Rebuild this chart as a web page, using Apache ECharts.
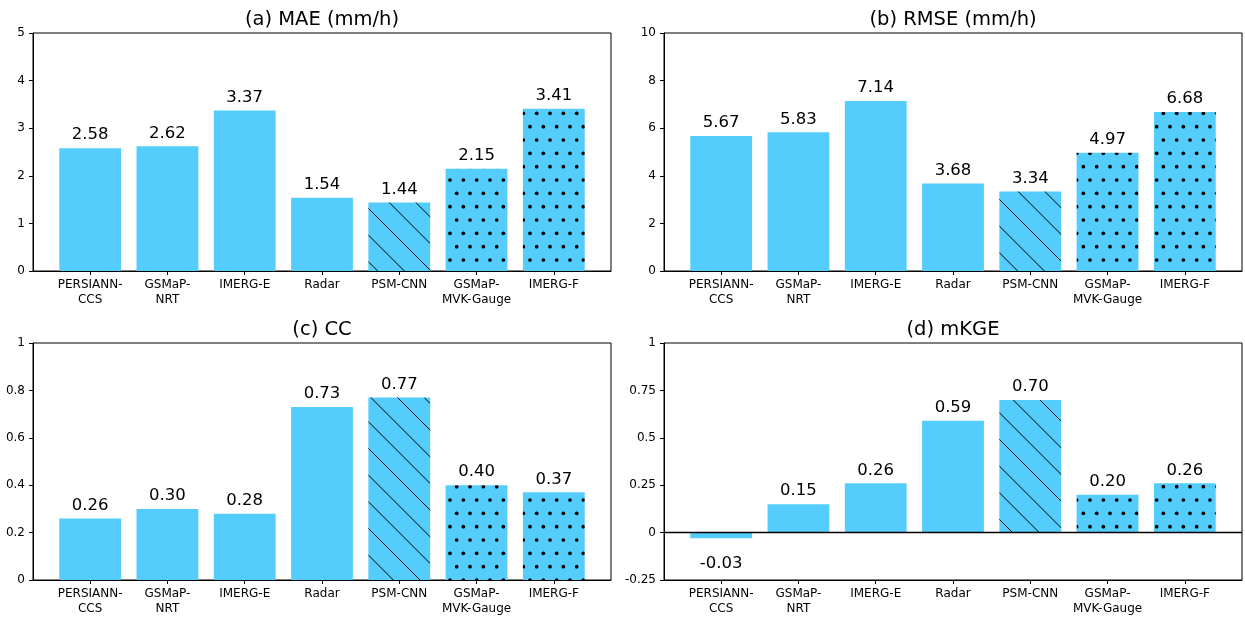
<!DOCTYPE html>
<html>
<head>
<meta charset="utf-8">
<script src="https://cdn.jsdelivr.net/npm/echarts@6/dist/echarts.min.js"></script>
<style>
  html, body { margin: 0; padding: 0; background: #fff; }
  #chart { width: 1245px; height: 617px; }
</style>
</head>
<body>
<div id="chart"></div>
<script>
// Products compared
const categories = ['PERSIANN-\nCCS', 'GSMaP-\nNRT', 'IMERG-E', 'Radar', 'PSM-CNN', 'GSMaP-\nMVK-Gauge', 'IMERG-F'];
// Fill style per product: plain, diagonal hatch, dotted
const fillKind = ['solid', 'solid', 'solid', 'solid', 'hatch', 'dots', 'dots'];

// Metric values per product
const maeValues  = [2.58, 2.62, 3.37, 1.54, 1.44, 2.15, 3.41];
const rmseValues = [5.67, 5.83, 7.14, 3.68, 3.34, 4.97, 6.68];
const ccValues   = [0.26, 0.30, 0.28, 0.73, 0.77, 0.40, 0.37];
const mkgeValues = [-0.03, 0.15, 0.26, 0.59, 0.70, 0.20, 0.26];

// Panel titles
const panelTitles = ['(a) MAE (mm/h)', '(b) RMSE (mm/h)', '(c) CC', '(d) mKGE'];

// Y axis ranges: [min, max, interval]
const maeAxis  = [0, 5, 1];
const rmseAxis = [0, 10, 2];
const ccAxis   = [0, 1, 0.2];
const mkgeAxis = [-0.25, 1, 0.25];

const BAR_COLOR = '#55CDFC';
const FONT = 'DejaVu Sans';
const X_MIN = -0.74, X_MAX = 6.74;

// Hatch patterns drawn on small tiles
function hatchTile() {
  const c = document.createElement('canvas');
  c.width = 80; c.height = 80;
  const g = c.getContext('2d');
  g.fillStyle = BAR_COLOR; g.fillRect(0, 0, 80, 80);
  g.strokeStyle = '#000'; g.lineWidth = 1;
  for (let k = -4; k <= 4; k++) {
    const off = k * 80 / 3;
    g.beginPath();
    g.moveTo(-10, -10 + off);
    g.lineTo(90, 90 + off);
    g.stroke();
  }
  return c;
}
function dotTile() {
  const c = document.createElement('canvas');
  c.width = 40; c.height = 80;
  const g = c.getContext('2d');
  g.fillStyle = BAR_COLOR; g.fillRect(0, 0, 40, 80);
  g.fillStyle = '#000';
  const step = 40 / 3;
  for (let r = 0; r < 6; r++) {
    const y = 6.667 + r * step;
    const x0 = (r % 2 === 0) ? 3.333 : 10;
    for (let k = 0; k < 3; k++) {
      g.beginPath();
      g.arc(x0 + k * step, y, 1.85, 0, Math.PI * 2);
      g.fill();
    }
  }
  return c;
}
const fills = {
  solid: BAR_COLOR,
  hatch: { image: hatchTile(), repeat: 'repeat' },
  dots: { image: dotTile(), repeat: 'repeat' }
};

function renderBar(params, api) {
  const i = api.value(0);
  const v = api.value(1);
  const base = api.coord([i, 0]);
  const tip = api.coord([i, v]);
  const w = api.size([0.8, 0])[0];
  const top = Math.min(base[1], tip[1]);
  const h = Math.abs(tip[1] - base[1]);
  const ly = v >= 0 ? tip[1] - 13 : tip[1] + 25;
  return {
    type: 'group',
    children: [
      { type: 'rect', shape: { x: base[0] - w / 2, y: top, width: w, height: h },
        style: { fill: fills[fillKind[i]] } },
      { type: 'text', x: base[0], y: ly,
        style: { text: v.toFixed(2), fill: '#000', fontFamily: FONT, fontSize: 16.5,
                 align: 'center', verticalAlign: 'middle' } }
    ]
  };
}

const grids = [
  { left: 33, top: 33, width: 578, height: 238 },
  { left: 664, top: 33, width: 578, height: 238 },
  { left: 33, top: 343, width: 578, height: 238 },
  { left: 664, top: 343, width: 578, height: 238 }
];
const axes = [maeAxis, rmseAxis, ccAxis, mkgeAxis];
const values = [maeValues, rmseValues, ccValues, mkgeValues];
const tickPositions = categories.map((_, i) => i);

const option = {
  animation: false,
  backgroundColor: '#fff',
  title: panelTitles.map((t, k) => ({
    text: t,
    left: grids[k].left + grids[k].width / 2,
    top: grids[k].top - 24,
    textAlign: 'center',
    padding: 0,
    textStyle: { fontFamily: FONT, fontSize: 19.5, fontWeight: 'normal', color: '#000', lineHeight: 22 }
  })),
  grid: grids.map(g => Object.assign({ show: true, borderColor: '#000', borderWidth: 1, containLabel: false }, g)),
  xAxis: grids.map((g, k) => ({
    type: 'value', gridIndex: k, min: X_MIN, max: X_MAX,
    splitLine: { show: false },
    axisLine: { show: true, onZero: false, lineStyle: { color: '#000', width: 1 } },
    axisTick: { show: true, customValues: tickPositions, length: 4, lineStyle: { color: '#000' } },
    axisLabel: {
      show: true, customValues: tickPositions, margin: 6,
      formatter: v => categories[Math.round(v)] || '',
      fontFamily: FONT, fontSize: 12, color: '#000', lineHeight: 15.5
    }
  })),
  yAxis: axes.map((a, k) => ({
    type: 'value', gridIndex: k, min: a[0], max: a[1], interval: a[2],
    splitLine: { show: false },
    axisLine: { show: true, onZero: false, lineStyle: { color: '#000', width: 1 } },
    axisTick: { show: true, length: 4, lineStyle: { color: '#000' } },
    axisLabel: {
      margin: 8, fontFamily: FONT, fontSize: 12, color: '#000',
      formatter: v => String(parseFloat(v.toFixed(2)))
    }
  })),
  series: values.map((vals, k) => ({
    type: 'custom', xAxisIndex: k, yAxisIndex: k,
    renderItem: renderBar,
    encode: { x: 0, y: 1 },
    clip: false,
    data: vals.map((v, i) => [i, v])
  })).concat([{
    // zero reference line in the mKGE panel
    type: 'line', xAxisIndex: 3, yAxisIndex: 3, z: 5,
    symbol: 'none', silent: true,
    lineStyle: { color: '#000', width: 1.5 },
    data: [[X_MIN, 0], [X_MAX, 0]]
  }])
};

const chart = echarts.init(document.getElementById('chart'), null, { renderer: 'canvas' });
chart.setOption(option);
</script>
</body>
</html>
